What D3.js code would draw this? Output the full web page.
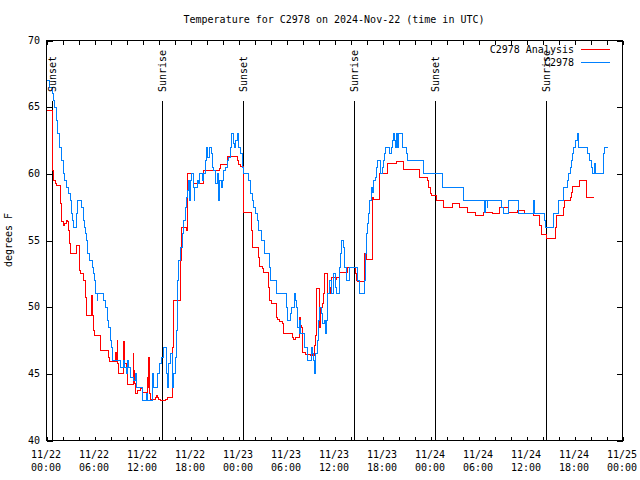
<!DOCTYPE html>
<html><head><meta charset="utf-8">
<script src="https://cdn.jsdelivr.net/npm/d3@7"></script>
<style>
body{margin:0;background:#fff}
svg{display:block}
text{font-family:"DejaVu Sans Mono","Liberation Mono",monospace;font-size:10px;fill:#000}
</style>
</head><body>
<svg id="c" width="640" height="480"></svg>
<script>
// ---- data (hours since 2024-11-22 00:00 UTC, degrees F) ----
const obsHours=[0.12,0.41,0.71,0.84,1.0,1.25,1.41,1.66,1.84,2.09,
2.25,2.5,2.79,3.0,3.09,3.21,3.34,3.75,3.84,4.34,
4.59,4.69,4.88,5.0,5.09,5.41,5.71,5.84,6.0,6.12,
6.34,6.41,7.09,7.38,7.59,7.79,8.0,8.12,8.25,9.31,
9.62,9.71,10.0,10.16,10.29,10.5,10.91,11.12,11.25,12.0,
12.5,12.62,13.21,13.34,13.91,14.16,14.34,14.59,15.0,15.09,
15.29,15.5,15.71,15.91,16.12,16.25,16.34,16.54,16.75,16.96,
17.16,17.38,17.5,17.59,17.79,17.91,17.98,18.09,18.34,18.5,
18.56,18.84,19.04,19.16,19.46,19.66,19.88,20.0,20.16,20.41,
20.59,20.71,20.91,21.12,21.34,21.54,21.66,21.84,21.96,22.16,
22.38,22.59,22.79,23.0,23.12,23.34,23.5,23.62,23.84,24.04,
24.25,24.46,24.66,25.29,25.5,25.71,25.91,26.12,26.34,26.54,
26.84,27.19,27.91,28.04,28.69,30.0,30.09,30.46,30.62,31.0,
31.12,31.25,31.41,31.59,31.66,31.75,32.25,32.59,33.12,33.25,
33.41,33.54,33.66,33.84,34.0,34.16,34.34,34.5,34.75,34.88,
35.0,35.09,35.16,35.41,35.59,35.66,35.84,35.91,36.09,36.25,
36.59,36.66,36.75,36.91,37.09,37.25,37.5,37.91,38.84,39.16,
39.75,39.88,40.0,40.09,40.29,40.41,40.59,40.71,40.84,40.91,
41.12,41.25,41.41,41.75,41.96,42.09,42.25,42.38,42.91,43.09,
43.21,43.34,43.5,43.62,43.75,43.91,44.04,44.46,45.0,45.16,
47.09,49.46,52.09,54.75,54.88,55.09,55.16,56.84,57.12,57.71,
59.0,60.84,60.94,62.25,62.38,63.41,64.04,64.66,65.09,65.29,
65.5,65.59,65.71,65.84,66.12,66.34,66.54,67.66,67.91,68.09,
68.21,68.5,68.62,69.59,69.75,70.16];
const obsTemps=[67,66.5,66,65.5,65,64,63,62,61,60,
59.5,59,58.5,58,57,56.5,56,57,58,57.5,
56.5,56,55.5,55,54,53.5,53,52.5,52,51,
50.5,51,50.5,50,49,48.5,47.5,47,46,45.5,
46,45.5,45,46,45.5,44.75,44.5,45,44,43,
43.5,43,45,44,45,45.75,46.25,47,45,44,
45.75,46.5,44,45,46.25,48.25,52,53.5,54.5,55.5,
56.5,57.5,58.25,58.75,59.5,58,59.5,60,59,58,
59,59.5,59.25,60,59.5,60,61,62,61.25,62,
61.5,60.5,60.25,59.25,60,58,59.5,59,59.5,60.25,
60.5,61,61.25,62,63,62.25,62,62.5,63,62,
61.5,60.5,60,59.5,58.5,58,57.5,57,56.5,55.75,
55,54,53,52,51,50,49,49.5,50,51,
50.5,50,48.5,48,49,48,47,46,47,46.5,
46,45,46.5,47.5,49,50,49.5,48.75,49,48,
49,50.5,51,52,51.5,51,52,52.5,51.5,51,
52,53,54,55,54.5,53,52,53,52,51,
52,54,55.5,56.25,57,58,59,58.6,59,59.5,
59.75,60.5,61,60,60.5,61,61.5,62,61.5,62,
62.5,63,62.5,62,63,62,63,62,61.5,61,
60,59,58,57.1,58,57.5,58,57.5,57,58,
57,58,57,56.5,56,57,58,59,59.5,60,
60.5,61,61.5,62,62.5,63,62,61.5,61,60.5,
60,60.75,60,61.5,62,62];
const anaHours=[0.09,0.75,0.91,1.12,1.25,1.75,1.84,2.09,2.25,2.5,
2.66,2.79,2.91,3.0,3.75,4.12,4.25,4.59,4.66,4.88,
4.96,5.66,5.75,5.91,6.0,6.75,7.79,7.91,8.62,8.71,
8.84,8.91,9.04,9.59,9.66,9.75,10.0,10.09,10.84,10.91,
11.0,11.12,11.34,11.75,11.96,12.59,12.66,12.79,12.88,13.0,
13.62,13.75,13.91,14.04,14.25,14.88,15.16,15.71,15.81,15.88,
15.91,16.75,16.84,17.38,17.5,17.66,18.41,19.66,21.66,21.75,
22.66,23.84,24.04,24.25,24.66,25.59,25.71,26.54,26.66,26.96,
27.09,27.79,27.91,28.09,28.75,28.91,29.16,29.46,29.59,29.66,
30.71,30.91,31.12,31.66,31.75,31.84,31.96,32.38,33.0,33.21,
33.41,33.5,33.62,33.79,34.12,34.19,34.46,34.59,34.75,35.09,
35.16,35.5,35.59,36.12,36.25,36.66,37.59,38.62,38.75,38.91,
39.75,40.0,40.71,40.91,41.66,42.66,43.62,43.75,44.66,46.66,
47.66,47.79,48.0,48.09,48.69,49.66,50.71,51.66,52.66,53.62,
54.59,55.71,56.66,57.79,58.91,59.75,60.91,61.66,61.84,62.56,
63.62,63.75,64.59,64.75,65.5,65.59,65.71,66.66,67.5,68.41];
const anaTemps=[64.75,60.25,59.5,59.25,59.1,57.75,56.4,56.1,56.25,56.5,
56.4,55.75,54.75,54,54.6,52.75,52.5,52.4,52,50.75,
49.4,50.9,49.4,48.25,47.9,46.75,46.25,45.9,46.6,45.9,
47.5,45.75,45,45.75,47.4,45.75,45,44.2,46.5,45.25,
44.25,43.5,43.75,43.9,43.6,44.75,44,46.25,43.5,43.1,
43.25,43.4,43.25,43.1,43,43.1,43.25,44,47,49,
50.5,53.5,56,55.95,55.75,60,59.25,60.25,60.4,60.7,
61.3,61,60.7,60.55,57.1,55.75,54.5,53.75,53.05,52.9,
52.6,51.5,50.5,50.3,49.25,49.05,48.95,48.8,48.5,48.05,
47.75,47.55,47.75,49.25,48.6,48.5,46.6,46.45,46.4,46.5,
46.4,47.1,47.9,51.4,48.5,50,50.25,51,52.55,51.9,
51,51.5,52.2,52.1,52.2,52.6,53,52.5,52,51.9,
54,53.55,58.25,58.1,60,60.75,60.8,60.9,60.3,59.75,
59.5,59,58.5,58.4,58,57.5,57.75,57.45,57.1,56.9,
57.1,57,57.45,57.1,57.25,57.05,56.9,56.1,55.45,55.15,
56,56.85,57.5,58,58.25,58.6,59.05,59.5,58.2,58.2];
const eventHours=[0.75,14.5,24.62,38.5,48.62,62.5];
const eventLabels=["Sunset","Sunrise","Sunset","Sunrise","Sunset","Sunrise"];
const yTicks=[40,45,50,55,60,65,70];
const seriesNames=["C2978 Analysis","C2978"];
const seriesColors=["#ff0000","#0080ff"];
const titleText="Temperature for C2978 on 2024-Nov-22 (time in UTC)";
const yLabel="degrees F";

// ---- drawing ----
const W=640,H=480,M={l:46,r:18,t:40,b:40};
const start=Date.UTC(2024,10,22);
const toDate=h=>new Date(start+h*3600e3);
const x=d3.scaleUtc().domain([toDate(0),toDate(72)]).range([M.l,W-M.r]);
const y=d3.scaleLinear().domain([40,70]).range([H-M.b,M.t]);
const svg=d3.select("#c");
const g=svg.append("g").attr("transform","translate(0.5,0.5)").attr("shape-rendering","crispEdges");

const minorT=d3.utcHours(toDate(0),toDate(72.01),2);
const majorT=d3.utcHours(toDate(0),toDate(72.01),6);

function strip(sel){sel.select(".domain").remove();sel.selectAll(".tick line").attr("stroke","#000");}
g.append("g").attr("transform",`translate(0,${H-M.b})`)
 .call(d3.axisBottom(x).tickValues(minorT).tickSize(-4).tickFormat("")).call(strip);
g.append("g").attr("transform",`translate(0,${M.t})`)
 .call(d3.axisTop(x).tickValues(minorT).tickSize(-4).tickFormat("")).call(strip);
g.append("g").attr("transform",`translate(${M.l},0)`)
 .call(d3.axisLeft(y).tickValues(yTicks).tickSize(-6).tickFormat("")).call(strip);
g.append("g").attr("transform",`translate(${W-M.r},0)`)
 .call(d3.axisRight(y).tickValues(yTicks).tickSize(-6).tickFormat("")).call(strip);

// tick labels
const fmtD=d3.utcFormat("%m/%d"),fmtT=d3.utcFormat("%H:%M");
const xl=svg.append("g").selectAll("text").data(majorT).join("text")
 .attr("text-anchor","middle").attr("x",d=>x(d));
xl.append("tspan").attr("y",H-M.b+18).attr("x",d=>x(d)).text(fmtD);
xl.append("tspan").attr("y",H-M.b+31).attr("x",d=>x(d)).text(fmtT);
svg.append("g").selectAll("text").data(yTicks).join("text")
 .attr("text-anchor","end").attr("x",M.l-6).attr("y",d=>y(d)).attr("dy","0.35em").text(d=>d);

// sunrise / sunset lines
const lineTop=M.t+(H-M.t-M.b)*0.15;
g.append("g").selectAll("line").data(eventHours).join("line")
 .attr("x1",d=>Math.round(x(toDate(d)))).attr("x2",d=>Math.round(x(toDate(d))))
 .attr("y1",y(40)).attr("y2",lineTop).attr("stroke","#000");
svg.append("g").selectAll("text").data(eventHours).join("text")
 .attr("transform",d=>`translate(${Math.round(x(toDate(d)))+0.5},${lineTop-8}) rotate(-90)`)
 .attr("dy","0.35em").attr("text-anchor","start").text((d,i)=>eventLabels[i]);

// series
const line=d3.line().curve(d3.curveStepAfter).x(d=>x(toDate(d[0]))).y(d=>y(d[1]));
const ana=anaHours.map((h,i)=>[h,anaTemps[i]]);
const obs=obsHours.map((h,i)=>[h,obsTemps[i]]);
g.append("path").datum(ana).attr("d",line).attr("fill","none").attr("stroke",seriesColors[0]).attr("stroke-width",1);
g.append("path").datum(obs).attr("d",line).attr("fill","none").attr("stroke",seriesColors[1]).attr("stroke-width",1);

// border
g.append("rect").attr("x",M.l).attr("y",M.t).attr("width",W-M.l-M.r).attr("height",H-M.t-M.b)
 .attr("fill","none").attr("stroke","#000");

// legend
const lg=svg.append("g");
seriesNames.forEach((n,i)=>{
  const yy=49+i*13;
  lg.append("text").attr("x",574).attr("y",yy).attr("dy","0.35em").attr("text-anchor","end").text(n);
  lg.append("line").attr("x1",581).attr("x2",610).attr("y1",yy+0.5).attr("y2",yy+0.5)
    .attr("stroke",seriesColors[i]).attr("shape-rendering","crispEdges");
});

// title & y label
svg.append("text").attr("x",(M.l+W-M.r)/2).attr("y",23).attr("text-anchor","middle").text(titleText);
svg.append("text").attr("transform",`translate(12,${(M.t+H-M.b)/2}) rotate(-90)`)
 .attr("text-anchor","middle").text(yLabel);
</script>
</body></html>
